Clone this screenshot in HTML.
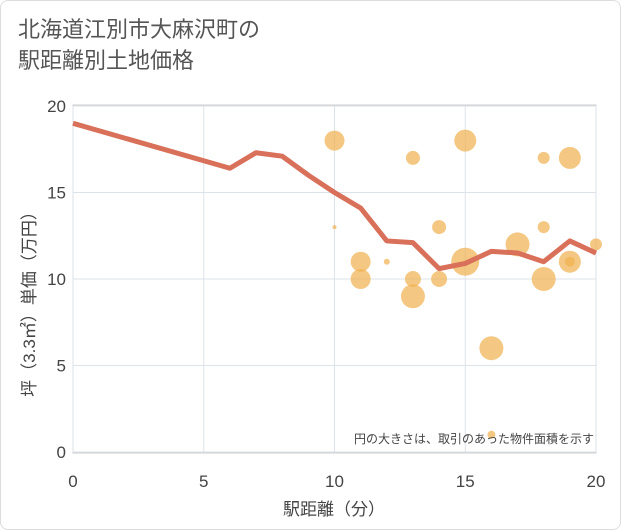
<!DOCTYPE html>
<html><head><meta charset="utf-8"><style>
body{margin:0;background:#fff;font-family:"Liberation Sans","Noto Sans CJK JP",sans-serif;}
#wrap{position:relative;width:619px;height:528px;border:1px solid #ddd;border-radius:8px;background:#fff;overflow:hidden}
.t{position:absolute;left:17px;color:#555;font-size:22px;line-height:31px}
</style></head><body>
<div id="wrap">
<div class="t" style="top:13px">北海道江別市大麻沢町の<br>駅距離別土地価格</div>
<svg id="svg" width="621" height="530" style="position:absolute;left:-1px;top:-1px"></svg>
</div>
<script>
const xTicks=[0,5,10,15,20];
const yTicks=[0,5,10,15,20];
const lineX=[0,6,7,8,9,10,11,12,13,14,15,16,17,18,19,20];
const lineY=[19,16.4,17.3,17.1,16,15,14.1,12.2,12.1,10.6,10.9,11.6,11.5,11,12.2,11.5];
const bubX=[10,15,13,18,19,10,14,18,20,11,12,15,17,19,19,11,13,14,18,13,16,16];
const bubY=[18,18,17,17,17,13,13,13,12,11,11,11,12,11,11,10,10,10,10,9,6,1];
const bubR=[10,11,7,6,11,2,7,6,6,10,3,14,12,11,5,10,8,8,12,12,12,4];
const NS="http://www.w3.org/2000/svg";
const svg=document.getElementById('svg');
const X0=73,X1=596,Y0=452,Y1=106;
const sx=v=>X0+(X1-X0)*v/20, sy=v=>Y0-(Y0-Y1)*v/20;
function el(t,a,p){const e=document.createElementNS(NS,t);for(const k in a)e.setAttribute(k,a[k]);(p||svg).appendChild(e);return e;}
const bg=el('rect',{x:X0,y:Y1-1,width:X1-X0,height:Y0-Y1+2,fill:'#fff',stroke:'#ccc'});


xTicks.forEach(v=>{
 const g=el('line',{x1:sx(v),x2:sx(v),y1:Y1,y2:Y0,stroke:'#dde3ea'});
 
 
 const t=el('text',{x:sx(v),y:487,'text-anchor':'middle','font-size':17,fill:'#444'});t.textContent=v;
 
 
});
yTicks.forEach(v=>{
 const g=el('line',{x1:X0,x2:X1,y1:sy(v),y2:sy(v),stroke:'#dde3ea'});
 
 
 const t=el('text',{x:66,y:sy(v)+6,'text-anchor':'end','font-size':17,fill:'#444'});t.textContent=v;
 
 
});
bubX.forEach((x,i)=>{
 const c=el('circle',{cx:sx(x),cy:sy(bubY[i]),r:bubR[i],fill:'#f0b14f','fill-opacity':0.7});
 
 
});
const pl=el('polyline',{points:lineX.map((x,i)=>sx(x)+','+sy(lineY[i])).join(' '),fill:'none',stroke:'#d9705a','stroke-width':5,'stroke-linejoin':'round'});


const n=el('text',{x:594,y:443,'text-anchor':'end','font-size':12,fill:'#444'});n.textContent='円の大きさは、取引のあった物件面積を示す';


const xt=el('text',{x:334,y:515,'text-anchor':'middle','font-size':17,fill:'#444'});xt.textContent='駅距離（分）';


const yt=el('text',{x:0,y:0,'text-anchor':'middle','font-size':17,fill:'#444',transform:'translate(35,300) rotate(-90)'});yt.textContent='坪（3.3㎡）単価（万円）';


</script>
</body></html>
